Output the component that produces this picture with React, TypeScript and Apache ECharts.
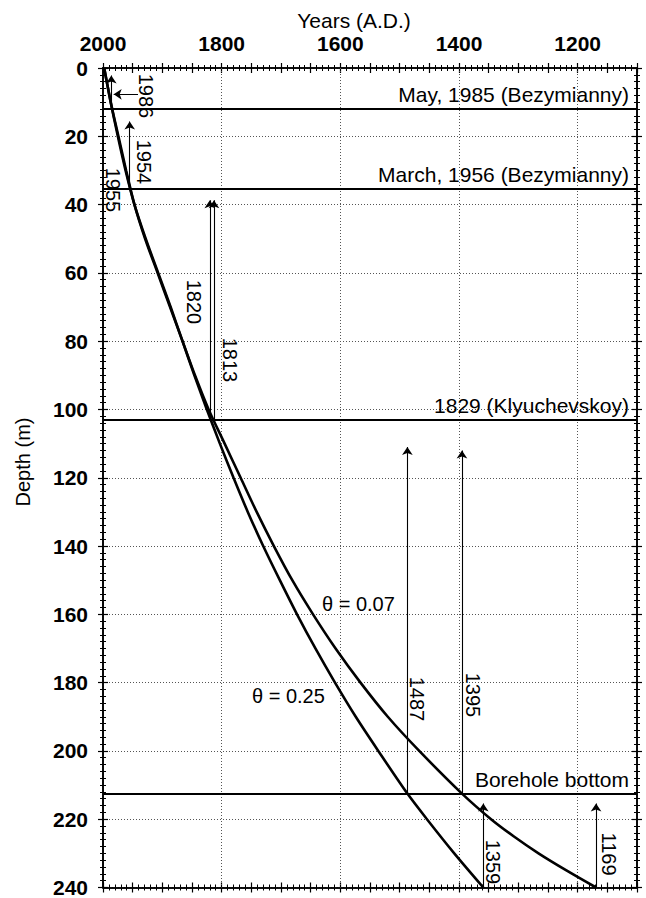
import React, { useEffect, useRef } from "react";
import * as echarts from "echarts";

const FONT = '"Liberation Sans", Arial, Helvetica, sans-serif';

// ---- axes ----
const yearMin = 1100;
const yearMax = 2000;
const yearLabelStep = 200;
const yearGridLines = [1800, 1600, 1400, 1200];
const depthMin = 0;
const depthMax = 240;
const depthStep = 20;

// ---- age-depth curves: [year A.D., depth m] ----
const curveTheta025: [number, number][] = [
  [1998, 0], [1987, 10], [1975, 20], [1962, 30], [1947, 40], [1928, 50], [1907, 60],
  [1886, 70], [1866, 80], [1846, 90], [1825, 100], [1803, 110], [1780, 120], [1756, 130],
  [1730, 140], [1702, 150], [1673, 160], [1642, 170], [1609, 180], [1574, 190], [1536, 200],
  [1487, 212.5], [1454, 220], [1408, 230], [1359, 240],
];
const curveTheta007: [number, number][] = [
  [1998, 0], [1987, 10], [1974, 20], [1961, 30], [1947, 40], [1929, 50], [1908, 60],
  [1887, 70], [1866, 80], [1845, 90], [1822, 100], [1795, 110], [1768, 120], [1741, 130],
  [1712, 140], [1681, 150], [1646, 160], [1608, 170], [1566, 180], [1520, 190], [1467, 200],
  [1395, 212.5], [1346, 220], [1308, 225], [1266, 230], [1219, 235], [1169, 240],
];

// ---- marker horizons ----
const horizonDepths = [12, 35.5, 103, 212.5];
const horizonNames = [
  "May, 1985 (Bezymianny)",
  "March, 1956 (Bezymianny)",
  "1829 (Klyuchevskoy)",
  "Borehole bottom",
];

// ---- vertical arrows ----
const arrowYears = [1986, 1955, 1820, 1813, 1487, 1395, 1359, 1169];
const arrowFromDepth = [12, 35.5, 103, 103, 212.5, 212.5, 240, 240];
const arrowToDepth = [2.2, 15.7, 38.7, 38.7, 111, 112, 215.4, 215.4];
const arrowLabels = ["1986", "1954", "1820", "1813", "1487", "1395", "1359", "1169"];
// horizontal arrow near the top
const hArrowFromYear = 1941;
const hArrowToYear = 1982;
const hArrowDepth = 7.7;

export default function App() {
  const ref = useRef<HTMLDivElement>(null);

  useEffect(() => {
    if (!ref.current) return;
    const chart = echarts.init(ref.current, null, { renderer: "svg" });

    const tickStyle = { color: "#000", width: 1.2 };
    const makeX = (position: string, inside: boolean, showLabel: boolean) => ({
      type: "value",
      position,
      min: yearMin,
      max: yearMax,
      inverse: true,
      interval: 50,
      axisLine: { show: true, onZero: false, lineStyle: { color: "#000", width: 1.6 } },
      axisTick: { show: true, inside, length: 5, lineStyle: tickStyle },
      minorTick: { show: true, splitNumber: 5, length: 3, lineStyle: { color: "#000", width: 1 } },
      axisLabel: showLabel
        ? {
            show: true,
            margin: 14,
            color: "#000",
            fontSize: 21,
            fontWeight: "bold",
            fontFamily: FONT,
            formatter: (v: number) => (v % yearLabelStep === 0 ? String(v) : ""),
          }
        : { show: false },
      splitLine: { show: false },
    });
    const makeY = (position: string, inside: boolean, showLabel: boolean, split: boolean) => ({
      type: "value",
      position,
      min: depthMin,
      max: depthMax,
      inverse: true,
      interval: depthStep,
      axisLine: { show: true, onZero: false, lineStyle: { color: "#000", width: 1.6 } },
      axisTick: { show: true, inside, length: 5, lineStyle: tickStyle },
      minorTick: { show: true, splitNumber: 10, length: 3, lineStyle: { color: "#000", width: 1 } },
      axisLabel: showLabel
        ? { show: true, margin: 15, color: "#000", fontSize: 21, fontWeight: "bold", fontFamily: FONT }
        : { show: false },
      splitLine: split
        ? { show: true, lineStyle: { color: "#555", width: 1, type: [1, 2] } }
        : { show: false },
    });

    const arrowData = arrowYears
      .map((yr, i) => ({
        coords: [
          [yr, arrowFromDepth[i]],
          [yr, arrowToDepth[i]],
        ],
      }))
      .concat([
        {
          coords: [
            [hArrowFromYear, hArrowDepth],
            [hArrowToYear, hArrowDepth],
          ],
        },
      ]);

    const labelStyle = (size: number) => ({
      fontSize: size,
      fontFamily: FONT,
      fill: "#000",
      align: "center",
      verticalAlign: "middle",
    });
    const rot = (text: string, x: number, y: number) => ({
      type: "text",
      x,
      y,
      rotation: -Math.PI / 2,
      silent: true,
      style: { ...labelStyle(20), text },
    });
    const arrowLabelPos: [number, number][] = [
      [146, 96],
      [143.5, 162],
      [194, 302],
      [230, 360],
      [417, 699],
      [472.5, 695],
      [493, 862],
      [609, 854],
    ];

    const curveStyle = {
      type: "line",
      xAxisIndex: 0,
      yAxisIndex: 0,
      showSymbol: false,
      smooth: 0.3,
      lineStyle: { color: "#000", width: 2.6 },
      silent: true,
      z: 4,
    };

    const option: any = {
      animation: false,
      backgroundColor: "#fff",
      grid: { left: 103, right: 9, top: 68, bottom: 8, containLabel: false },
      xAxis: [
        makeX("top", false, true),
        makeX("top", true, false),
        makeX("bottom", false, false),
        makeX("bottom", true, false),
      ],
      yAxis: [
        makeY("left", false, true, true),
        makeY("left", true, false, false),
        makeY("right", false, false, false),
        makeY("right", true, false, false),
      ],
      series: [
        {
          ...curveStyle,
          name: "theta 0.07",
          data: curveTheta007,
          markLine: {
            silent: true,
            symbol: ["none", "none"],
            label: { show: false },
            lineStyle: { color: "#555", width: 1, type: [1, 2] },
            data: yearGridLines.map((y) => ({ xAxis: y })),
            z: 1,
          },
        },
        {
          ...curveStyle,
          name: "theta 0.25",
          data: curveTheta025,
          markLine: {
            silent: true,
            symbol: ["none", "none"],
            lineStyle: { color: "#000", width: 1.8, type: "solid" },
            label: {
              show: true,
              position: "insideStartTop",
              formatter: "{b}",
              color: "#000",
              fontSize: 21,
              fontFamily: FONT,
              distance: [8, 4],
            },
            data: horizonDepths.map((d, i) => ({ yAxis: d, name: horizonNames[i] })),
          },
        },
        {
          name: "arrows",
          type: "lines",
          coordinateSystem: "cartesian2d",
          xAxisIndex: 0,
          yAxisIndex: 0,
          symbol: ["none", "arrow"],
          symbolSize: 8,
          silent: true,
          lineStyle: { color: "#000", width: 1.1, opacity: 1, curveness: 0 },
          data: arrowData,
          z: 5,
        },
      ],
      graphic: [
        {
          type: "text",
          x: 354,
          y: 20,
          silent: true,
          style: { ...labelStyle(21), text: "Years (A.D.)" },
        },
        {
          type: "text",
          x: 23,
          y: 462,
          rotation: Math.PI / 2,
          silent: true,
          style: { ...labelStyle(20), text: "Depth (m)" },
        },
        rot(arrowLabels[0], arrowLabelPos[0][0], arrowLabelPos[0][1]),
        rot(arrowLabels[1], arrowLabelPos[1][0], arrowLabelPos[1][1]),
        rot("1955", 113, 190),
        rot(arrowLabels[2], arrowLabelPos[2][0], arrowLabelPos[2][1]),
        rot(arrowLabels[3], arrowLabelPos[3][0], arrowLabelPos[3][1]),
        rot(arrowLabels[4], arrowLabelPos[4][0], arrowLabelPos[4][1]),
        rot(arrowLabels[5], arrowLabelPos[5][0], arrowLabelPos[5][1]),
        rot(arrowLabels[6], arrowLabelPos[6][0], arrowLabelPos[6][1]),
        rot(arrowLabels[7], arrowLabelPos[7][0], arrowLabelPos[7][1]),
        {
          type: "text",
          x: 322,
          y: 604,
          silent: true,
          style: { ...labelStyle(20), align: "left", text: "θ = 0.07" },
        },
        {
          type: "text",
          x: 252,
          y: 696,
          silent: true,
          style: { ...labelStyle(20), align: "left", text: "θ = 0.25" },
        },
      ],
    };

    chart.setOption(option);
    return () => chart.dispose();
  }, []);

  return (
    <div
      ref={ref}
      style={{ position: "fixed", left: 0, top: 0, width: 646, height: 898, background: "#fff" }}
    />
  );
}
